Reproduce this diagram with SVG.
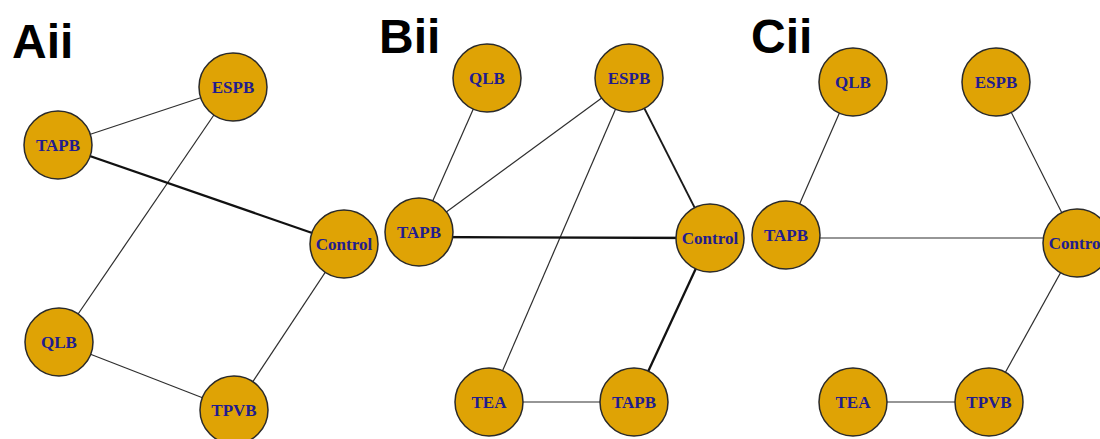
<svg xmlns="http://www.w3.org/2000/svg" width="1100" height="439" viewBox="0 0 1100 439">
<style>
.bg{fill:#fff}
.n circle{fill:#DFA305;stroke:#2a2a2a;stroke-width:1.5}
.n text{font-family:"Liberation Serif","Times New Roman",serif;font-weight:bold;font-size:17px;fill:#221C8E;text-anchor:middle;dominant-baseline:central}
.e{stroke:#2e2e2e;stroke-width:1.2;fill:none}
.t{stroke:#111;stroke-width:2.3;fill:none}
.m{stroke:#1a1a1a;stroke-width:1.8;fill:none}
.lbl{font-family:"Liberation Sans",Arial,sans-serif;font-weight:bold;font-size:48px;fill:#000}
</style>
<rect class="bg" x="0" y="0" width="1100" height="439"/>
<text class="lbl" x="12" y="58">Aii</text>
<text class="lbl" x="379" y="53">Bii</text>
<text class="lbl" x="751" y="53">Cii</text>
<g id="connectors">
<line class="e" x1="58" y1="145" x2="233" y2="87"/>
<line class="e" x1="233" y1="87" x2="59" y2="342"/>
<line class="t" x1="58" y1="145" x2="344" y2="244"/>
<line class="e" x1="344" y1="244" x2="234" y2="410"/>
<line class="e" x1="59" y1="342" x2="234" y2="410"/>
<line class="e" x1="487" y1="78" x2="419" y2="232"/>
<line class="e" x1="629" y1="78" x2="419" y2="232"/>
<line class="e" x1="629" y1="78" x2="489" y2="402"/>
<line class="m" x1="629" y1="78" x2="710" y2="238"/>
<line class="t" x1="419" y1="237" x2="710" y2="238"/>
<line class="t" x1="710" y1="238" x2="634" y2="402"/>
<line class="e" x1="489" y1="402" x2="634" y2="402"/>
<line class="e" x1="853" y1="82" x2="786" y2="235"/>
<line class="e" x1="996" y1="82" x2="1077" y2="243"/>
<line class="e" x1="786" y1="238" x2="1077" y2="238"/>
<line class="e" x1="1077" y1="243" x2="989" y2="402"/>
<line class="e" x1="853" y1="402" x2="989" y2="402"/>
</g>
<g id="A-ESPB" class="n"><circle cx="233" cy="87" r="34"/><text x="233" y="87">ESPB</text></g>
<g id="A-TAPB" class="n"><circle cx="58" cy="145" r="34"/><text x="58" y="145">TAPB</text></g>
<g id="A-Control" class="n"><circle cx="344" cy="244" r="34"/><text x="344" y="244">Control</text></g>
<g id="A-QLB" class="n"><circle cx="59" cy="342" r="34"/><text x="59" y="342">QLB</text></g>
<g id="A-TPVB" class="n"><circle cx="234" cy="410" r="34"/><text x="234" y="410">TPVB</text></g>
<g id="B-QLB" class="n"><circle cx="487" cy="78" r="34"/><text x="487" y="78">QLB</text></g>
<g id="B-ESPB" class="n"><circle cx="629" cy="78" r="34"/><text x="629" y="78">ESPB</text></g>
<g id="B-TAPB" class="n"><circle cx="419" cy="232" r="34"/><text x="419" y="232">TAPB</text></g>
<g id="B-Control" class="n"><circle cx="710" cy="238" r="34"/><text x="710" y="238">Control</text></g>
<g id="B-TEA" class="n"><circle cx="489" cy="402" r="34"/><text x="489" y="402">TEA</text></g>
<g id="B-TAPB2" class="n"><circle cx="634" cy="402" r="34"/><text x="634" y="402">TAPB</text></g>
<g id="C-QLB" class="n"><circle cx="853" cy="82" r="34"/><text x="853" y="82">QLB</text></g>
<g id="C-ESPB" class="n"><circle cx="996" cy="82" r="34"/><text x="996" y="82">ESPB</text></g>
<g id="C-TAPB" class="n"><circle cx="786" cy="235" r="34"/><text x="786" y="235">TAPB</text></g>
<g id="C-Control" class="n"><circle cx="1077" cy="243" r="34"/><text x="1077" y="243">Control</text></g>
<g id="C-TEA" class="n"><circle cx="853" cy="402" r="34"/><text x="853" y="402">TEA</text></g>
<g id="C-TPVB" class="n"><circle cx="989" cy="402" r="34"/><text x="989" y="402">TPVB</text></g>
</svg>
